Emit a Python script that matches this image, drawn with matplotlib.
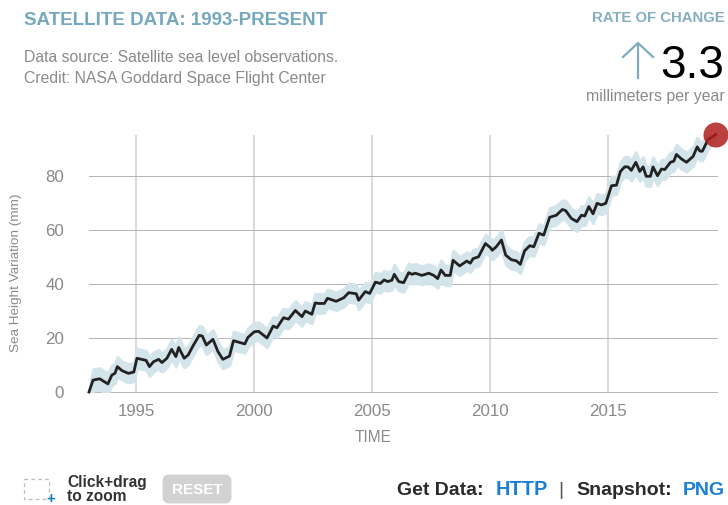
"""
Satellite sea level chart (NASA, 1993-present)
"""

import matplotlib
matplotlib.use('Agg')
import matplotlib.pyplot as plt
from matplotlib.patches import Circle, FancyBboxPatch, Rectangle

plt.rcParams['font.family'] = ['Liberation Sans', 'DejaVu Sans']

# values
years = [1993.0, 1993.17, 1993.45, 1993.8, 1993.97, 1994.1, 1994.2, 1994.4, 1994.67, 1994.9,
         1995.03, 1995.42, 1995.56, 1995.73, 1995.95, 1996.09, 1996.3, 1996.5, 1996.68, 1996.8,
         1997.03, 1997.2, 1997.4, 1997.67, 1997.8, 1997.97, 1998.25, 1998.46, 1998.67, 1998.95,
         1999.12, 1999.6, 1999.73, 2000.0, 2000.18, 2000.54, 2000.8, 2000.96, 2001.24, 2001.45,
         2001.74, 2002.02, 2002.16, 2002.44, 2002.58, 2002.73, 2002.97, 2003.1, 2003.47, 2003.79,
         2004.0, 2004.32, 2004.42, 2004.7, 2004.89, 2005.13, 2005.34, 2005.5, 2005.65, 2005.83,
         2005.93, 2006.12, 2006.33, 2006.54, 2006.68, 2006.82, 2007.1, 2007.39, 2007.6, 2007.77,
         2007.91, 2008.09, 2008.3, 2008.42, 2008.7, 2009.0, 2009.15, 2009.27, 2009.5, 2009.79,
         2010.0, 2010.08, 2010.25, 2010.47, 2010.65, 2010.89, 2011.1, 2011.27, 2011.45, 2011.67,
         2011.84, 2012.06, 2012.26, 2012.51, 2012.8, 2013.05, 2013.19, 2013.43, 2013.67, 2013.86,
         2014.0, 2014.17, 2014.35, 2014.52, 2014.7, 2014.89, 2015.13, 2015.34, 2015.51, 2015.69,
         2015.83, 2015.97, 2016.16, 2016.33, 2016.47, 2016.6, 2016.78, 2016.89, 2017.08, 2017.25,
         2017.39, 2017.63, 2017.77, 2017.88, 2018.1, 2018.31, 2018.59, 2018.76, 2018.88, 2018.98,
         2019.22, 2019.55]
level = [0.0, 4.4, 4.9, 3.0, 6.3, 6.9, 9.4, 7.9, 6.9, 7.4,
         12.5, 11.7, 9.4, 11.2, 12.1, 10.9, 12.5, 15.8, 13.1, 16.5,
         12.5, 13.7, 17.0, 21.0, 20.7, 17.4, 19.5, 15.0, 12.1, 13.3,
         19.0, 17.8, 20.2, 22.3, 22.5, 20.0, 24.4, 23.8, 27.5, 27.0,
         30.2, 27.9, 30.0, 28.8, 33.0, 32.8, 32.8, 34.7, 33.6, 34.9,
         36.8, 36.4, 34.0, 37.2, 36.5, 40.7, 40.2, 41.5, 40.9, 41.4,
         43.6, 40.9, 40.5, 44.2, 43.6, 44.0, 43.2, 44.0, 43.2, 42.0,
         45.2, 43.2, 43.2, 48.8, 46.7, 48.5, 47.7, 49.4, 50.1, 55.0,
         53.5, 52.5, 53.8, 56.3, 50.7, 49.0, 48.6, 47.3, 52.3, 54.2,
         53.8, 58.8, 58.1, 64.7, 65.5, 67.6, 67.2, 64.3, 63.1, 65.5,
         65.2, 68.7, 66.0, 69.9, 69.3, 69.9, 76.4, 76.6, 81.7, 83.4,
         83.4, 82.1, 85.1, 81.7, 83.4, 79.9, 79.9, 83.4, 80.1, 82.6,
         82.4, 85.1, 85.5, 88.0, 86.3, 85.1, 87.3, 90.8, 89.2, 89.2,
         93.5, 95.4]
band = [0.5, 4.0, 4.0, 3.8, 3.6, 3.6, 3.6, 3.4, 3.4, 3.4,
        3.6, 3.5, 3.5, 3.5, 3.5, 3.4, 3.4, 3.6, 3.6, 3.8,
        3.4, 3.3, 3.4, 3.5, 3.5, 3.4, 3.5, 3.5, 3.4, 3.4,
        3.4, 3.3, 3.4, 3.4, 3.4, 3.4, 3.5, 3.5, 3.5, 3.5,
        3.5, 3.4, 3.4, 3.4, 3.5, 3.5, 3.4, 3.3, 3.3, 3.3,
        3.4, 3.4, 3.4, 3.4, 3.4, 3.5, 3.5, 3.5, 3.5, 3.5,
        3.6, 3.4, 3.4, 3.5, 3.5, 3.5, 3.4, 3.4, 3.4, 3.4,
        3.6, 3.6, 3.8, 3.6, 3.4, 3.3, 3.3, 3.3, 3.3, 3.3,
        3.4, 3.4, 3.4, 3.5, 3.5, 3.4, 3.3, 3.3, 3.4, 3.4,
        3.4, 3.4, 3.4, 3.5, 3.5, 3.5, 3.5, 3.5, 3.5, 3.5,
        3.5, 3.5, 3.5, 3.5, 3.5, 3.5, 3.4, 3.3, 3.5, 3.8,
        3.8, 3.8, 3.8, 3.6, 3.6, 3.6, 3.6, 3.6, 3.5, 3.5,
        3.5, 3.6, 3.6, 3.6, 3.6, 3.5, 3.5, 3.5, 3.4, 3.4,
        3.4, 1.0]
year_ticks = [1995, 2000, 2005, 2010, 2015]
level_ticks = [0, 20, 40, 60, 80]

W, H = 728, 505
fig = plt.figure(figsize=(W / 100, H / 100), dpi=100)

ax = fig.add_axes([89 / W, 1 - 392 / H, 628 / W, 257 / H])
ax.set_xlim(1993.0, 2019.6)
ax.set_ylim(0, 95.2)
for s in ax.spines.values():
    s.set_visible(False)
ax.set_xticks(year_ticks)
ax.set_yticks(level_ticks)
ax.tick_params(length=0, labelsize=12.2, labelcolor='#8a8a8a')
ax.tick_params(axis='x', pad=8.5)
ax.tick_params(axis='y', pad=18)
ax.grid(True, axis='y', color='#b4b4b4', lw=0.7, clip_on=False)
ax.grid(True, axis='x', color='#d0d0d0', lw=1.1)
ax.set_axisbelow(True)

lower = [v - b for v, b in zip(level, band)]
upper = [v + b for v, b in zip(level, band)]
ax.fill_between(years, lower, upper, color='#d3e4ea', lw=2, zorder=2)
ax.plot(years, level, color='#222222', lw=2, zorder=3, clip_on=False)

# everything around the plot is placed in pixels
ov = fig.add_axes([0, 0, 1, 1], facecolor='none')
ov.set_xlim(0, W)
ov.set_ylim(H, 0)
ov.axis('off')

ov.add_patch(Circle((716, 135), 12.5, color='#b01e1e', alpha=0.85, lw=0, zorder=5))

ov.text(24, 25, 'SATELLITE DATA: 1993-PRESENT', color='#75a8bf', fontsize=13.5, weight='bold')
ov.text(24, 62, 'Data source: Satellite sea level observations.', color='#8a8a8a', fontsize=11.3)
ov.text(24, 83, 'Credit: NASA Goddard Space Flight Center', color='#8a8a8a', fontsize=11.3)

ov.text(725, 22, 'RATE OF CHANGE', color='#85adc0', fontsize=10.7, weight='bold', ha='right')
ov.plot([638, 638], [44, 78], color='#7fadc0', lw=1.6)
ov.plot([623, 638, 653], [57, 43, 57], color='#7fadc0', lw=1.6)
ov.text(724, 78, '3.3', color='black', fontsize=33, ha='right')
ov.text(725, 101, 'millimeters per year', color='#8a8a8a', fontsize=11.4, ha='right')

ov.text(16, 273, 'Sea Height Variation (mm)', color='#8a8a8a', fontsize=9.7, rotation=90, ha='center', va='center')
ov.text(373.5, 442, 'TIME', color='#8a8a8a', fontsize=11.2, ha='center')

ov.add_patch(Rectangle((24, 479), 25, 20, fill=False, ec='#bdbdbd', lw=0.9, ls=(0, (3, 2.5))))
ov.text(51, 499, '+', color='#0a7cc4', fontsize=11, weight='bold', ha='center', va='center')
ov.text(67, 487, 'Click+drag', color='#333333', fontsize=11.2, weight='bold')
ov.text(67, 501, 'to zoom', color='#333333', fontsize=11.2, weight='bold')

ov.add_patch(FancyBboxPatch((166, 478), 62, 22, boxstyle='round,pad=0,rounding_size=3',
                            mutation_aspect=1, fc='#d2d2d2', ec='#d2d2d2', lw=5))
ov.text(197, 494, 'RESET', color='white', fontsize=11, weight='bold', ha='center')

ov.text(397, 495, 'Get Data:', color='#2a2a2a', fontsize=14, weight='bold')
ov.text(496, 495, 'HTTP', color='#1a7fd6', fontsize=14.3, weight='bold')
ov.text(561, 495, '|', color='#555555', fontsize=14, ha='center')
ov.text(576, 495, 'Snapshot:', color='#2a2a2a', fontsize=14, weight='bold')
ov.text(683, 495, 'PNG', color='#1a7fd6', fontsize=14, weight='bold')

plt.savefig('out.png', dpi=100)
